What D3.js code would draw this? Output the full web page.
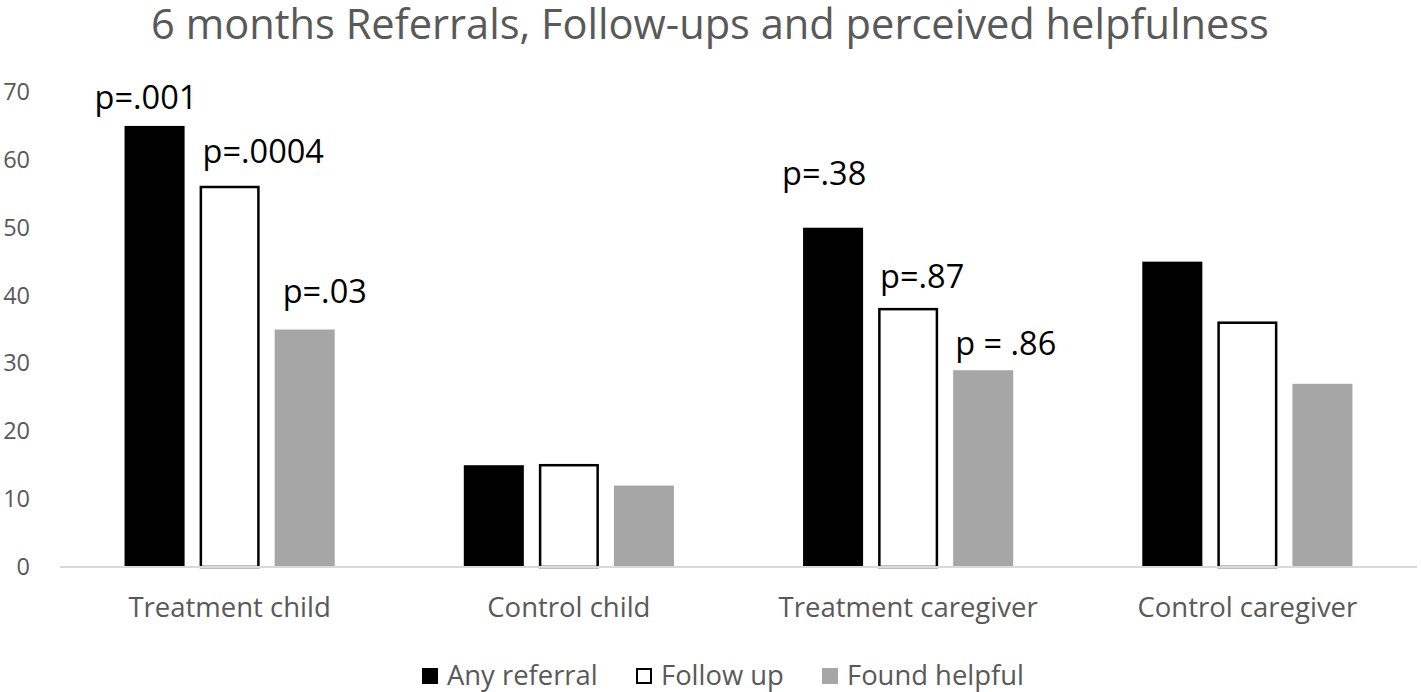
<!DOCTYPE html>
<html><head><meta charset="utf-8">
<script src="https://cdn.jsdelivr.net/npm/d3@7"></script>
<style>
html,body{margin:0;padding:0;background:#fff;}
svg{display:block;font-family:"Open Sans", Lato, sans-serif;}
</style></head>
<body>
<svg id="chart" width="1421" height="692"></svg>
<script>
// ---- data ----
const title = "6 months Referrals, Follow-ups and perceived helpfulness";
const categories = ["Treatment child", "Control child", "Treatment caregiver", "Control caregiver"];
const seriesNames = ["Any referral", "Follow up", "Found helpful"];
const anyReferral  = [65, 15, 50, 45];
const followUp     = [56, 15, 38, 36];
const foundHelpful = [35, 12, 29, 27];
const yTicks = [0, 10, 20, 30, 40, 50, 60, 70];
const annotCategory = ["Treatment child", "Treatment child", "Treatment child", "Treatment caregiver", "Treatment caregiver", "Treatment caregiver"];
const annotSeries   = ["Any referral", "Follow up", "Found helpful", "Any referral", "Follow up", "Found helpful"];
const annotText     = ["p=.001", "p=.0004", "p=.03", "p=.38", "p=.87", "p = .86"];

// ---- layout / style (kept separate) ----
const FONT = '"Open Sans", sans-serif';
const annotOffset = [[-30,-17],[3,-24],[8,-27],[-21,-43],[2,-21],[2,-15]];
const seriesFill   = ["#000000", "#ffffff", "#a6a6a6"];
const seriesStroke = ["none", "#000000", "none"];
const values = [anyReferral, followUp, foundHelpful];

const svg = d3.select("#chart");
const x0 = d3.scaleBand().domain(categories).range([60, 1417]).padding(0);
const x1 = d3.scaleBand().domain(seriesNames).range([0, x0.bandwidth()]).paddingInner(0.2).paddingOuter(0.86);
const y = d3.scaleLinear().domain([0, 70]).range([567, 92]);

// title
svg.append("text").attr("x", 710).attr("y", 39).attr("text-anchor", "middle")
  .attr("fill", "#595959").style("font-size", "41.6px").style("font-family", FONT).text(title);

// y axis labels
const yAxis = d3.axisLeft(y).tickValues(yTicks).tickSize(0).tickPadding(0);
const yg = svg.append("g").attr("transform", "translate(30,0)").call(yAxis);
yg.select(".domain").remove();
yg.selectAll("text").attr("fill", "#595959").style("font-size", "23.5px").style("font-family", FONT);

// bars
const groups = svg.append("g").selectAll("g").data(categories).join("g")
  .attr("transform", d => `translate(${x0(d)},0)`);
seriesNames.forEach((s, si) => {
  groups.append("rect")
    .attr("x", x1(s) + (seriesStroke[si] === "none" ? 0 : 1.25))
    .attr("width", x1.bandwidth() - (seriesStroke[si] === "none" ? 0 : 2.5))
    .attr("y", (d, ci) => y(values[si][ci]))
    .attr("height", (d, ci) => y(0) - y(values[si][ci]))
    .attr("fill", seriesFill[si])
    .attr("stroke", seriesStroke[si])
    .attr("stroke-width", 2.5);
});

// x axis baseline + labels
const xAxis = d3.axisBottom(x0).tickSize(0).tickPadding(0);
const xg = svg.append("g").attr("transform", `translate(0,${y(0)})`).call(xAxis);
xg.select(".domain").attr("stroke", "#d9d9d9").attr("stroke-width", 2).attr("d", `M60,0H1417`);
xg.selectAll("text").attr("fill", "#595959").attr("dy", 0).attr("y", 50)
  .style("font-size", "27.5px").style("font-family", FONT);

// annotations
annotText.forEach((t, i) => {
  const ci = categories.indexOf(annotCategory[i]);
  const si = seriesNames.indexOf(annotSeries[i]);
  svg.append("text")
    .attr("x", x0(annotCategory[i]) + x1(annotSeries[i]) + annotOffset[i][0])
    .attr("y", y(values[si][ci]) + annotOffset[i][1])
    .attr("fill", "#000").style("font-size", "32.5px").style("font-family", FONT).text(t);
});

// legend
const legendX = [422, 636, 822];
const lg = svg.append("g").selectAll("g").data(seriesNames).join("g")
  .attr("transform", (d, i) => `translate(${legendX[i]},668)`);
lg.append("rect")
  .attr("x", (d, i) => seriesStroke[i] === "none" ? 0 : 1)
  .attr("y", (d, i) => seriesStroke[i] === "none" ? 0 : 1)
  .attr("width", (d, i) => seriesStroke[i] === "none" ? 16 : 14)
  .attr("height", (d, i) => seriesStroke[i] === "none" ? 16 : 14)
  .attr("fill", (d, i) => seriesFill[i]).attr("stroke", (d, i) => seriesStroke[i]).attr("stroke-width", 2);
lg.append("text").attr("x", 25).attr("y", 17).attr("fill", "#595959")
  .style("font-size", "27.4px").style("font-family", FONT).text(d => d);
</script>
</body></html>
